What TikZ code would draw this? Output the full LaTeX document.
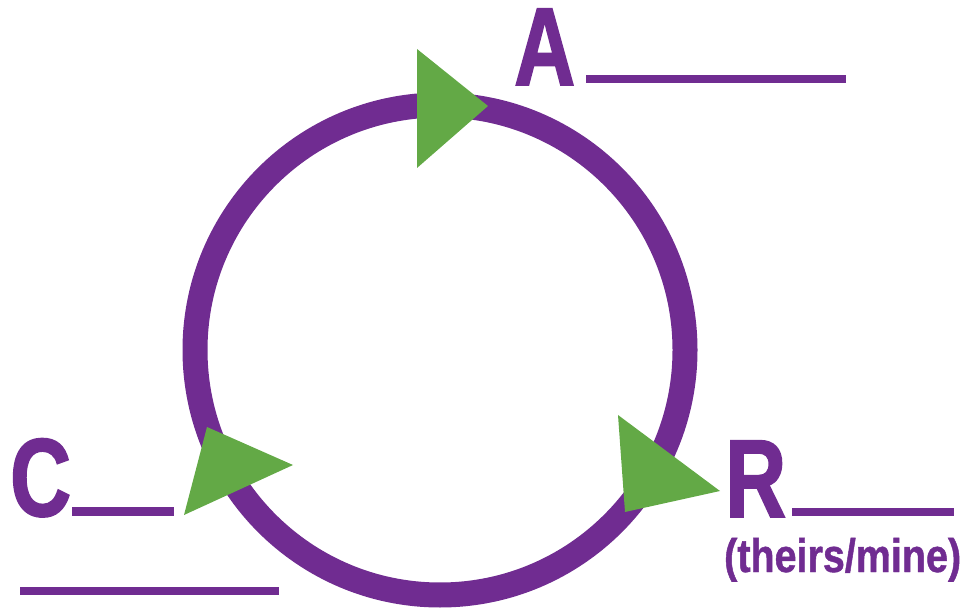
\documentclass[tikz,border=0pt]{standalone}
\usepackage{fontspec}
\newfontfamily\letterfont{Liberation Sans}[FakeStretch=0.76,FakeBold=1.5]
\newfontfamily\notefont{Liberation Sans}[FakeStretch=0.84,FakeBold=1]
\definecolor{cyclepurple}{RGB}{112,44,145}
\definecolor{arrowgreen}{RGB}{99,169,70}
\tikzset{
  ring/.style={draw=cyclepurple, line width=25pt},
  arrowhead/.style={fill=arrowgreen},
  letter/.style={text=cyclepurple, inner sep=0pt, anchor=base west,
    text height=78pt, text depth=0pt,
    font=\letterfont\bfseries\fontsize{111}{111}\selectfont},
  note/.style={text=cyclepurple, inner sep=0pt, anchor=base west,
    font=\notefont\bfseries\fontsize{47}{47}\selectfont},
  blank/.style={draw=cyclepurple, line width=8.5pt}
}
\begin{document}
\begin{tikzpicture}[x=1pt,y=-1pt]
        % Canvas in pixel units
        \useasboundingbox (0,0) rectangle (972,609);

        % Centre and radius of the cycle
        \def\cx{440}
        \def\cy{350}
        \def\rad{245}

        \draw[ring] (\cx,\cy) circle (\rad);

        % Green arrowheads on the cycle (three corners each)
        \foreach \ax/\ay/\bx/\by/\tx/\ty in {417/49/417/168/488/106,
                                            207/427/184/515/293/465,
                                            618/415/625/512/720/491}{
            \fill[arrowhead] (\ax,\ay) -- (\bx,\by) -- (\tx,\ty) -- cycle;
          }

        % Letters
        \node[letter] (A) at (514,85) {A};
        \node[letter] (C) at (10,516) {C};
        \node[letter] (R) at (725,517) {R};
        \node[note] (mine) at (724,572) {(theirs/mine)};

        % Blanks to fill in
        \coordinate (blankA) at (586,79);
        \coordinate (blankC) at (72,511.5);
        \coordinate (blankCC) at (20,591);
        \coordinate (blankR) at (792,512);

        \draw[blank] (blankA) -- ++(260,0);
        \draw[blank] (blankC) -- ++(102,0);
        \draw[blank] (blankCC) -- ++(259,0);
        \draw[blank] (blankR) -- ++(162,0);
      \end{tikzpicture}
\end{document}
